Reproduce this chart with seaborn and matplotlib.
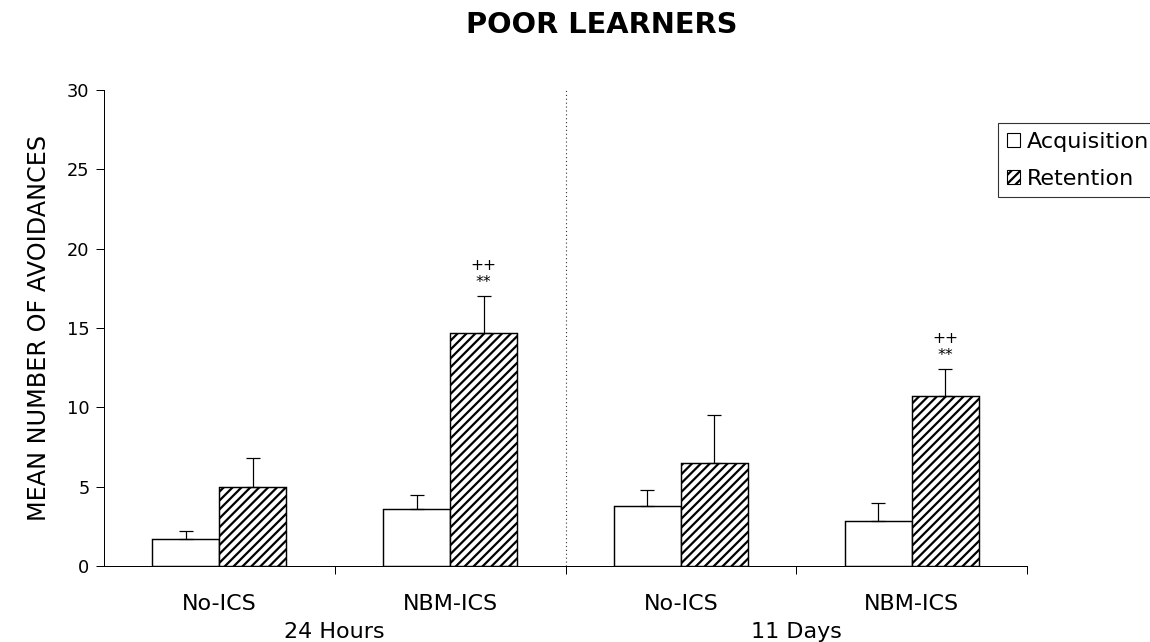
import numpy as np
import pandas as pd
import matplotlib
matplotlib.use("Agg")
import matplotlib.pyplot as plt
from matplotlib.patches import Patch
import seaborn as sns

# Mean number of avoidances (poor learners), with SEM
conditions = ["No-ICS", "NBM-ICS", "No-ICS", "NBM-ICS"]
intervals = ["24 Hours", "24 Hours", "11 Days", "11 Days"]
phases = ["Acquisition", "Retention"]
acq_mean = [1.7, 3.6, 3.8, 2.85]
acq_sem = [0.5, 0.9, 1.0, 1.1]
ret_mean = [5.0, 14.7, 6.5, 10.7]
ret_sem = [1.8, 2.3, 3.0, 1.7]
ret_marks = ["", "++\n**", "", "++\n**"]
y_ticks = [0, 5, 10, 15, 20, 25, 30]

groups = [f"{c} ({i})" for c, i in zip(conditions, intervals)]
df = pd.DataFrame({
    "group": groups * 2,
    "phase": [phases[0]] * 4 + [phases[1]] * 4,
    "mean": acq_mean + ret_mean,
    "sem": acq_sem + ret_sem,
})

sns.set_style("ticks")
plt.rcParams["font.family"] = ["DejaVu Sans"]
plt.rcParams["text.color"] = "black"
plt.rcParams["axes.labelcolor"] = "black"
plt.rcParams["xtick.color"] = "black"
plt.rcParams["ytick.color"] = "black"
plt.rcParams["hatch.linewidth"] = 2.0
plt.rcParams["hatch.color"] = "black"

DPI = 80
fig = plt.figure(figsize=(1150 / DPI, 642 / DPI), dpi=DPI)
ax = fig.add_axes([104 / 1150, 1 - 566 / 642, (1027 - 104) / 1150, (566 - 90) / 642])

sns.barplot(data=df, x="group", y="mean", hue="phase", order=groups,
            hue_order=phases, palette=["white", "white"], width=0.58,
            edgecolor="black", linewidth=1.3, errorbar=None, legend=False,
            saturation=1, ax=ax)

# hatch the retention bars and add one-sided error bars
bars_acq = ax.containers[0]
bars_ret = ax.containers[1]
for p in bars_ret.patches:
    p.set_hatch("///")
for cont, sem in ((bars_acq, acq_sem), (bars_ret, ret_sem)):
    for p, s in zip(cont.patches, sem):
        xc = p.get_x() + p.get_width() / 2
        h = p.get_height()
        ax.errorbar([xc], [h], yerr=[[0], [s]], fmt="none", ecolor="black",
                    elinewidth=1.1, capsize=6.5, capthick=1.1, zorder=1)

for p, s, m in zip(bars_ret.patches, ret_sem, ret_marks):
    if m:
        xc = p.get_x() + p.get_width() / 2
        top = p.get_height() + s
        ax.annotate("**", (xc, top), xytext=(0, 12), textcoords="offset points",
                    ha="center", va="center", fontsize=14)
        ax.annotate("++", (xc, top), xytext=(0, 28), textcoords="offset points",
                    ha="center", va="center", fontsize=14)

ax.set_ylim(0, 30)
ax.set_xlim(-0.5, 3.5)
ax.set_yticks(y_ticks)
ax.tick_params(axis="y", labelsize=16, length=7, width=0.9, pad=6)

# boundary ticks between groups, labels at group centres
ax.set_xticks([0.5, 1.5, 2.5, 3.5])
ax.set_xticklabels([])
ax.tick_params(axis="x", which="major", length=7, width=0.9)
ax.set_xticks(range(4), minor=True)
ax.set_xticklabels(conditions, minor=True)
ax.tick_params(axis="x", which="minor", length=0, labelsize=20, pad=25)

for x, lab in ((0.5, intervals[0]), (2.5, intervals[2])):
    ax.annotate(lab, (x, 0), xycoords=("data", "axes fraction"),
                xytext=(0, -59), textcoords="offset points",
                ha="center", va="center", fontsize=20)

ax.axvline(1.5, color="#333333", lw=1.0, ls=(0, (1, 2.5)), zorder=0)

ax.set_xlabel("")
ax.set_ylabel("MEAN NUMBER OF AVOIDANCES", fontsize=21.5, labelpad=14)
for side in ("top", "right"):
    ax.spines[side].set_visible(False)
for side in ("left", "bottom"):
    ax.spines[side].set_linewidth(0.9)
    ax.spines[side].set_color("black")

fig.text(602 / 1150, 1 - 25 / 642, "POOR LEARNERS", ha="center", va="center",
         fontsize=26, fontweight="bold")

handles = [Patch(facecolor="white", edgecolor="black", lw=1.0),
           Patch(facecolor="white", edgecolor="black", lw=1.0, hatch="///")]
leg = fig.legend(handles, phases, loc="upper left",
                 bbox_to_anchor=(998 / 1150, 1 - 123 / 642),
                 bbox_transform=fig.transFigure, fontsize=20,
                 handlelength=0.6, handleheight=0.6, handletextpad=0.3,
                 borderpad=0.4, labelspacing=0.75, borderaxespad=0,
                 frameon=True, fancybox=False)
leg.get_frame().set_edgecolor("black")
leg.get_frame().set_linewidth(1.0)

fig.savefig("out.png", dpi=DPI, facecolor="white")
